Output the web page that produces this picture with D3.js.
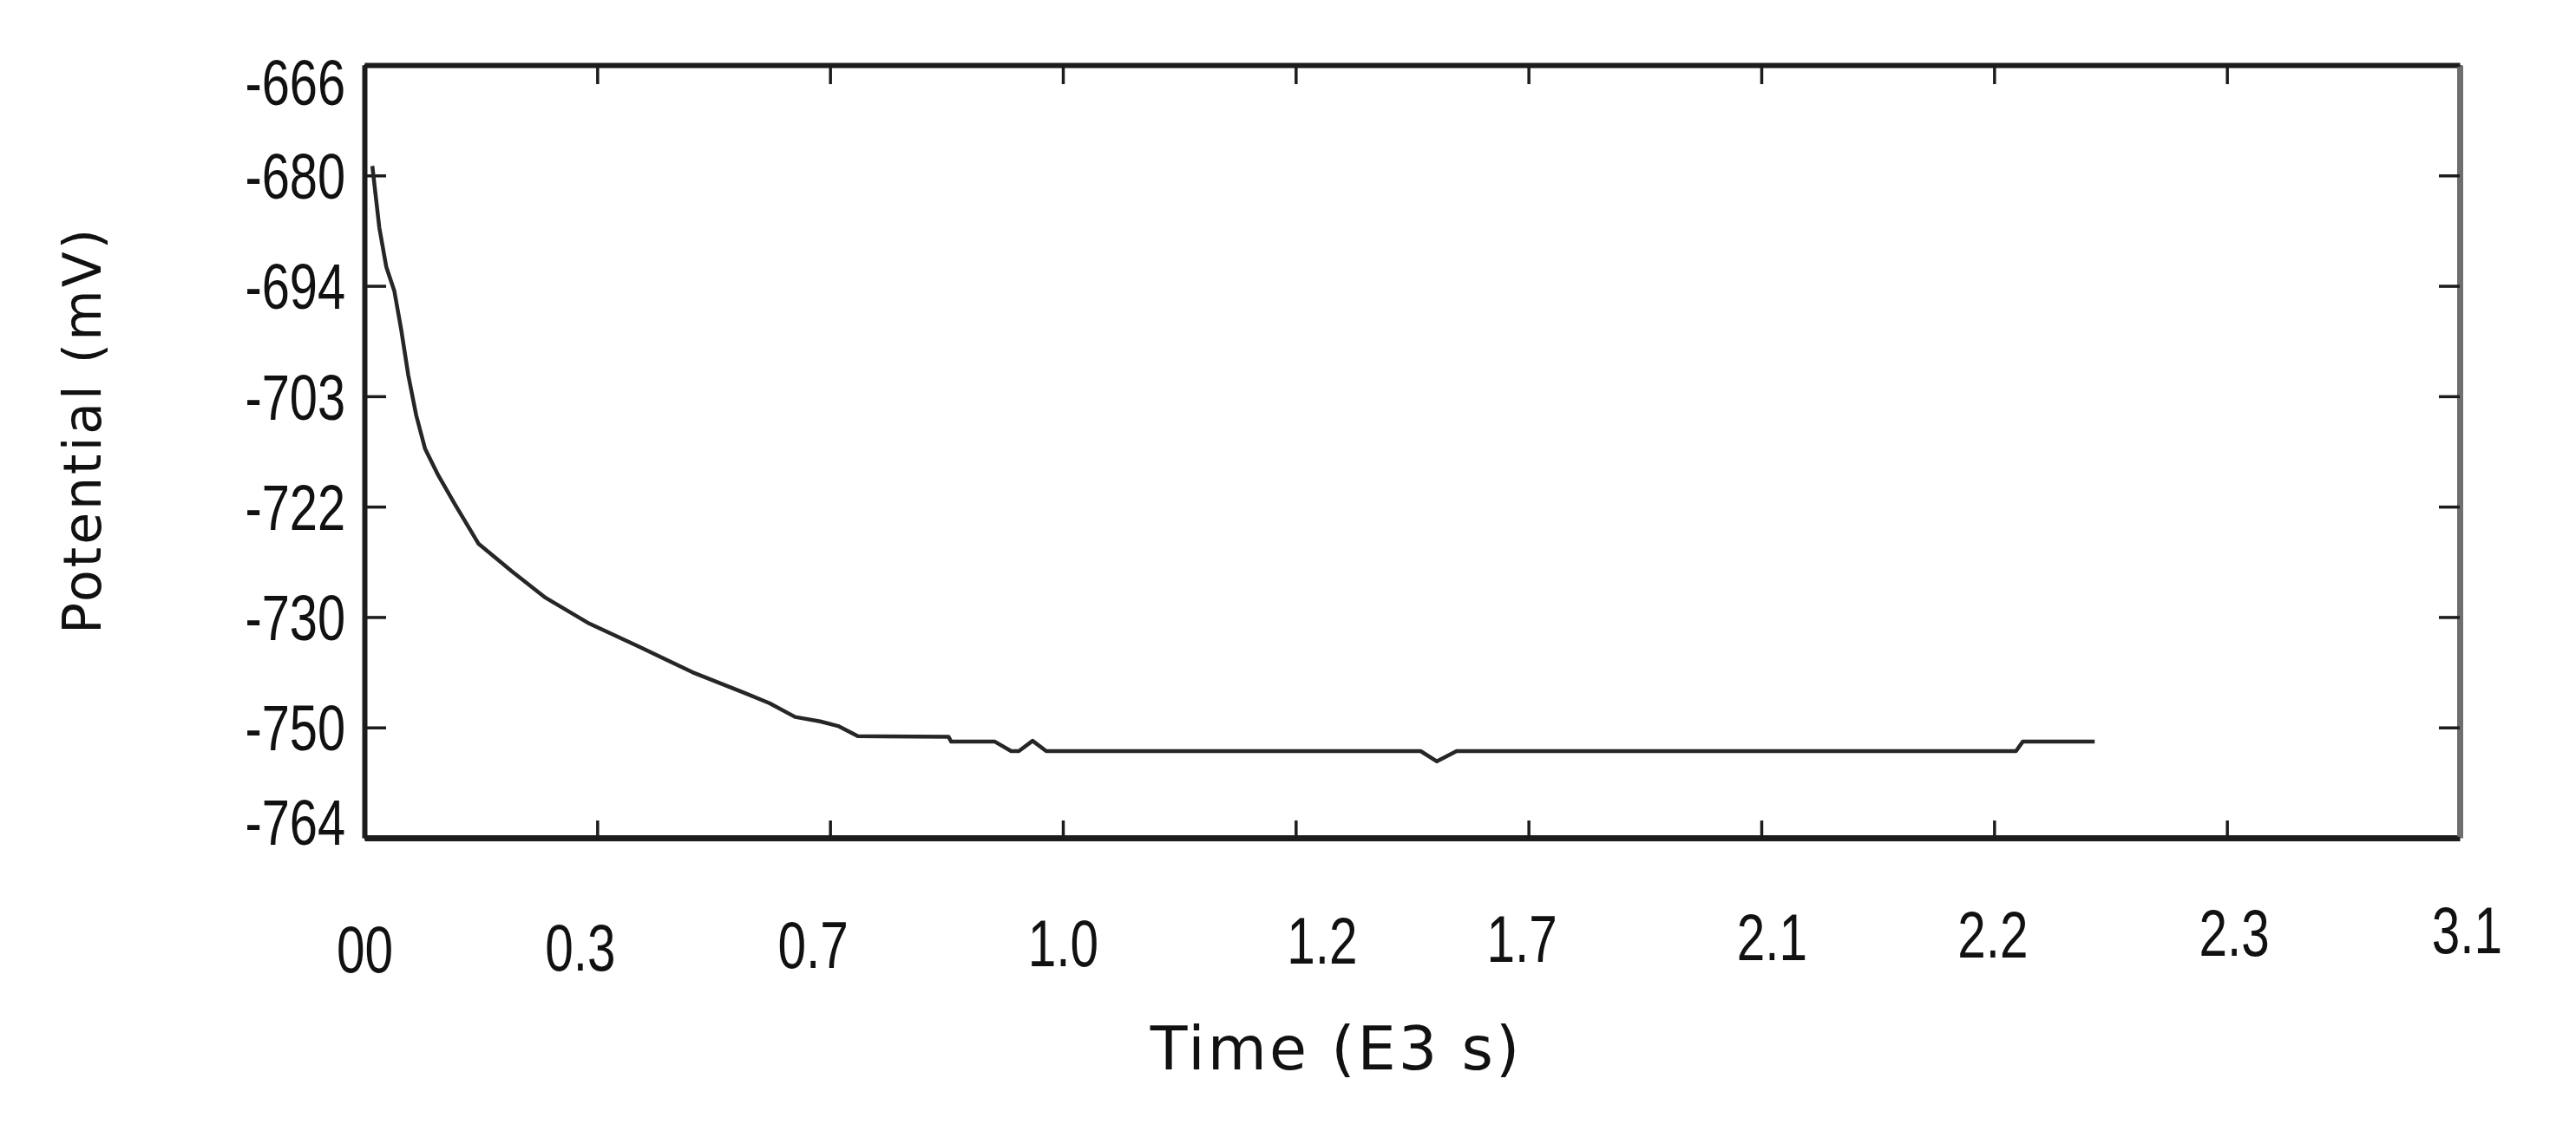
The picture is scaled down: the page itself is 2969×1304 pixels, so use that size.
<!DOCTYPE html>
<html>
<head>
<meta charset="utf-8">
<script src="https://cdn.jsdelivr.net/npm/d3@7"></script>
<style>
  body { margin: 0; background: #fff; }
  .tick text { font-family: "Liberation Sans", Arial, sans-serif; fill: #111; }
  .title { font-family: "DejaVu Sans", sans-serif; fill: #111; }
</style>
</head>
<body>
<svg></svg>
<script>
/////////////////////// data ///////////////////////
// tick labels are not evenly spaced in value, but they sit evenly on the axis
var timeTicks = [0, 0.3, 0.7, 1.0, 1.2, 1.7, 2.1, 2.2, 2.3, 3.1]
var timeLabels = ["00", "0.3", "0.7", "1.0", "1.2", "1.7", "2.1", "2.2", "2.3", "3.1"]
var potentialTicks = [-666, -680, -694, -703, -722, -730, -750, -764]
var potentialLabels = ["-666", "-680", "-694", "-703", "-722", "-730", "-750", "-764"]

// time (E3 s) and potential (mV) of the trace
var timeData = [0.0102, 0.0192, 0.0282, 0.0385, 0.0475, 0.0566, 0.0668, 0.0781, 0.0951, 0.1166,
                0.1472, 0.1904, 0.2334, 0.2900, 0.3724, 0.4637, 0.552, 0.596, 0.640, 0.683,
                0.7115, 0.7358, 0.8528, 0.8561, 0.9124, 0.9334, 0.9433, 0.961, 0.9786, 1.4684,
                1.5033, 1.5456, 2.2094, 2.2123, 2.2432]
var potentialData = [-678.8, -686.6, -691.6, -694.4, -697.6, -701.3, -706.3, -712.0, -716.6, -721.6,
                     -724.7, -726.7, -728.6, -731.2, -735.4, -740.0, -743.7, -745.6, -748.1, -748.9,
                     -749.8, -751.1, -751.2, -751.8, -751.8, -753.0, -753.0, -751.7, -753.0, -753.0,
                     -754.3, -753.0, -753.0, -751.8, -751.8]

/////////////////////// canvas ///////////////////////
var margin = {top: 75, right: 134, bottom: 338, left: 420},
    width = 2969 - margin.left - margin.right,
    height = 1304 - margin.top - margin.bottom;

var svg = d3.select("svg")
    .attr("width", 2969)
    .attr("height", 1304)
  .append("g")
    .attr("transform", "translate(" + margin.left + "," + margin.top + ")");

// piecewise scales: each label gets an equal slot
var x = d3.scaleLinear()
    .domain(timeTicks)
    .range(timeTicks.map((d, i) => i * width / (timeTicks.length - 1)));
var y = d3.scaleLinear()
    .domain(potentialTicks)
    .range(potentialTicks.map((d, i) => i * height / (potentialTicks.length - 1)));

/////////////////////// axes ///////////////////////
var fmtX = d => timeLabels[timeTicks.indexOf(d)]
var fmtY = d => potentialLabels[potentialTicks.indexOf(d)]
var squeeze = 0.77   // the original tick font is a narrow one
var xNudge = [0, -20, -20, 0, 30, -8, 12, -2, 8, 8]  // labels are not quite centred on their ticks

var gx = svg.append("g")
    .attr("transform", "translate(0," + height + ")")
    .call(d3.axisBottom(x).tickValues(timeTicks).tickFormat(fmtX).tickSizeInner(-20).tickSizeOuter(0).tickPadding(0));
gx.selectAll(".tick text")
    .attr("font-size", 76)
    .attr("x", 0).attr("y", 0).attr("dy", 0)
    .attr("transform", (d, i) => "translate(" + xNudge[i] + "," + (155 - i * 2.4) + ") scale(" + squeeze + ",1)");

var gy = svg.append("g")
    .call(d3.axisLeft(y).tickValues(potentialTicks).tickFormat(fmtY).tickSizeInner(-25).tickSizeOuter(0));
gy.selectAll(".tick text")
    .attr("font-size", 75)
    .attr("x", 0)
    .attr("transform", "translate(-22,0) scale(" + squeeze + ",1)")
    .attr("dy", (d, i) => i == 0 ? "0.6em" : i == potentialTicks.length - 1 ? "0.1em" : "0.35em");

var gt = svg.append("g")
    .call(d3.axisTop(x).tickValues(timeTicks).tickFormat("").tickSizeInner(-22).tickSizeOuter(0));
var gr = svg.append("g")
    .attr("transform", "translate(" + width + ",0)")
    .call(d3.axisRight(y).tickValues(potentialTicks).tickFormat("").tickSizeInner(-24).tickSizeOuter(0));

svg.selectAll(".tick line").attr("stroke", "#1c1c1c").attr("stroke-width", 3.5);
gx.select(".domain").attr("stroke", "#1c1c1c").attr("stroke-width", 7);
gy.select(".domain").attr("stroke", "#1c1c1c").attr("stroke-width", 6);
gt.select(".domain").attr("stroke", "#1c1c1c").attr("stroke-width", 6);
gr.select(".domain").attr("stroke", "#6e6e6e").attr("stroke-width", 7);

/////////////////////// the trace ///////////////////////
var points = timeData.map((t, i) => [t, potentialData[i]])
var line = d3.line()
    .x(d => x(d[0]))
    .y(d => y(d[1]));

svg.append("path")
    .datum(points)
    .attr("fill", "none")
    .attr("stroke", "#262626")
    .attr("stroke-width", 4.5)
    .attr("stroke-linejoin", "round")
    .attr("d", line);

/////////////////////// titles ///////////////////////
svg.append("text")
    .attr("class", "title")
    .attr("x", 1540 - margin.left)
    .attr("y", 1233 - margin.top)
    .attr("text-anchor", "middle")
    .attr("font-size", 70)
    .attr("letter-spacing", 3)
    .text("Time (E3 s)");

svg.append("text")
    .attr("class", "title")
    .attr("transform", "translate(" + (116 - margin.left) + "," + (496 - margin.top) + ") rotate(-90)")
    .attr("text-anchor", "middle")
    .attr("font-size", 60)
    .attr("letter-spacing", 3)
    .text("Potential (mV)");
</script>
</body>
</html>
